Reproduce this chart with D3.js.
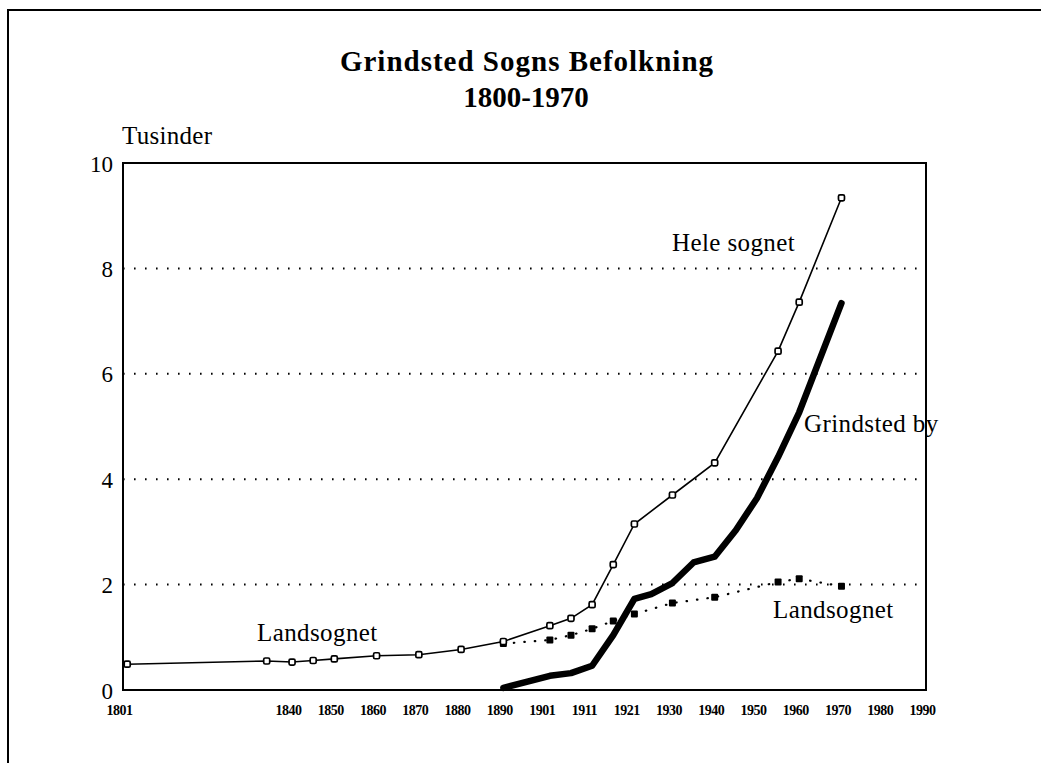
<!DOCTYPE html>
<html lang="da">
<head>
    <meta charset="UTF-8">
    <title>Grindsted Sogns Befolkning</title>
    <style>
        body { margin: 0; background: #fff; }
        text { font-family: "Liberation Serif", "Times New Roman", serif; fill: #000; }
    </style>
</head>
<body>
    <div id="chart"></div>

    <script src="https://d3js.org/d3.v7.min.js"></script>
    <script>
        // tusinder indbyggere, aflaest fra figuren
        var heleYears = [1801, 1834, 1840, 1845, 1850, 1860, 1870, 1880, 1890, 1901, 1906, 1911, 1916, 1921, 1930, 1940, 1955, 1960, 1970];
        var heleValues = [0.49, 0.55, 0.53, 0.56, 0.59, 0.65, 0.67, 0.77, 0.92, 1.22, 1.36, 1.62, 2.38, 3.15, 3.70, 4.31, 6.43, 7.36, 9.34];

        var byYears = [1890, 1901, 1906, 1911, 1916, 1921, 1925, 1930, 1935, 1940, 1945, 1950, 1955, 1960, 1970];
        var byValues = [0.04, 0.27, 0.32, 0.46, 1.04, 1.73, 1.82, 2.03, 2.42, 2.53, 3.03, 3.64, 4.42, 5.27, 7.34];

        var landYears = [1890, 1901, 1906, 1911, 1916, 1921, 1930, 1940, 1955, 1960, 1970];
        var landValues = [0.88, 0.95, 1.04, 1.16, 1.31, 1.44, 1.65, 1.76, 2.05, 2.11, 1.97];

        var tickYears = [1800, 1840, 1850, 1860, 1870, 1880, 1890, 1900, 1910, 1920, 1930, 1940, 1950, 1960, 1970, 1980, 1990];
        var tickLabels = ["1801", "1840", "1850", "1860", "1870", "1880", "1890", "1901", "1911", "1921", "1930", "1940", "1950", "1960", "1970", "1980", "1990"];
        var yTicks = [0, 2, 4, 6, 8, 10];
        var gridTicks = [2, 4, 6, 8];

        var margin = { top: 163, right: 115, bottom: 73, left: 123 };
        var W = 1041, H = 763;
        var width = W - margin.left - margin.right;
        var height = H - margin.top - margin.bottom;

        var svg = d3.select("#chart")
            .append("svg")
                .attr("width", W)
                .attr("height", H);

        // ydre ramme (kun top og venstre side synlig i scanningen)
        svg.append("path")
            .attr("d", "M8," + H + "V10H" + W)
            .style("fill", "none")
            .style("stroke", "#000")
            .style("stroke-width", 2);

        var g = svg.append("g")
            .attr("transform", "translate(" + margin.left + "," + margin.top + ")");

        var x = d3.scaleLinear()
            .domain([1800, 1990])
            .range([0, width]);

        var y = d3.scaleLinear()
            .domain([0, 10])
            .range([height, 0]);

        // stiplede hjaelpelinjer
        g.selectAll(".grid")
            .data(gridTicks)
            .enter()
            .append("line")
                .attr("x1", 0)
                .attr("x2", width)
                .attr("y1", function(d){ return y(d); })
                .attr("y2", function(d){ return y(d); })
                .style("stroke", "#000")
                .style("stroke-width", 2)
                .style("stroke-dasharray", "1.6,9.4");

        g.append("rect")
            .attr("width", width)
            .attr("height", height)
            .style("fill", "none")
            .style("stroke", "#000")
            .style("stroke-width", 2);

        // y-akse
        var yAxis = d3.axisLeft(y)
            .tickValues(yTicks)
            .tickSize(0)
            .tickPadding(10);
        var yGuide = g.append("g").call(yAxis);
        yGuide.select(".domain").remove();
        yGuide.selectAll("text")
            .style("font-family", "Liberation Serif")
            .style("font-size", "23px")
            .attr("dy", "0.35em");

        // x-akse
        var xAxis = d3.axisBottom(x)
            .tickValues(tickYears)
            .tickFormat(function(d, i){ return tickLabels[i]; })
            .tickSize(0)
            .tickPadding(15);
        var xGuide = g.append("g")
            .attr("transform", "translate(0," + height + ")")
            .call(xAxis);
        xGuide.select(".domain").remove();
        xGuide.selectAll("text")
            .style("font-family", "Liberation Serif")
            .style("font-size", "14px")
            .style("font-weight", "bold")
            .style("letter-spacing", "-0.5px")
            .attr("dx", "-4");

        var line = d3.line()
            .x(function(d){ return x(d[0]); })
            .y(function(d){ return y(d[1]); });

        var hele = d3.zip(heleYears, heleValues);
        var by = d3.zip(byYears, byValues);
        var land = d3.zip(landYears, landValues);

        // Landsognet (prikket)
        g.append("path")
            .datum(land)
            .attr("d", line)
            .style("fill", "none")
            .style("stroke", "#000")
            .style("stroke-width", 2.2)
            .style("stroke-linecap", "round")
            .style("stroke-dasharray", "0.5,10");

        g.selectAll(".land")
            .data(land)
            .enter()
            .append("rect")
                .attr("x", function(d){ return x(d[0]) - 3.5; })
                .attr("y", function(d){ return y(d[1]) - 3.5; })
                .attr("width", 7)
                .attr("height", 7)
                .attr("rx", 1)
                .style("fill", "#000");

        // Grindsted by (tyk)
        g.append("path")
            .datum(by)
            .attr("d", line)
            .style("fill", "none")
            .style("stroke", "#000")
            .style("stroke-width", 6.5)
            .style("stroke-linejoin", "round")
            .style("stroke-linecap", "round");

        // Hele sognet (tynd)
        g.append("path")
            .datum(hele)
            .attr("d", line)
            .style("fill", "none")
            .style("stroke", "#000")
            .style("stroke-width", 1.6);

        g.selectAll(".hele")
            .data(hele)
            .enter()
            .append("rect")
                .attr("x", function(d){ return x(d[0]) - 3; })
                .attr("y", function(d){ return y(d[1]) - 3; })
                .attr("width", 6)
                .attr("height", 6)
                .attr("rx", 1.5)
                .style("fill", "#fff")
                .style("stroke", "#000")
                .style("stroke-width", 1.7);

        // titel og tekster
        svg.append("text")
            .attr("x", 527)
            .attr("y", 71)
            .attr("text-anchor", "middle")
            .style("font-size", "29px")
            .style("font-weight", "bold")
            .style("letter-spacing", "1px")
            .text("Grindsted Sogns Befolkning");

        svg.append("text")
            .attr("x", 526)
            .attr("y", 107)
            .attr("text-anchor", "middle")
            .style("font-size", "29px")
            .style("font-weight", "bold")
            .text("1800-1970");

        svg.append("text")
            .attr("x", 122)
            .attr("y", 144)
            .style("font-size", "25px")
            .style("letter-spacing", "0.3px")
            .text("Tusinder");

        var notes = [
            { t: "Hele sognet", x: 672, y: 251 },
            { t: "Grindsted by", x: 804, y: 432 },
            { t: "Landsognet", x: 773, y: 618 },
            { t: "Landsognet", x: 257, y: 641 }
        ];

        svg.selectAll(".note")
            .data(notes)
            .enter()
            .append("text")
                .attr("x", function(d){ return d.x; })
                .attr("y", function(d){ return d.y; })
                .style("font-size", "25px")
                .style("letter-spacing", "0.4px")
                .text(function(d){ return d.t; });
    </script>
</body>
</html>
